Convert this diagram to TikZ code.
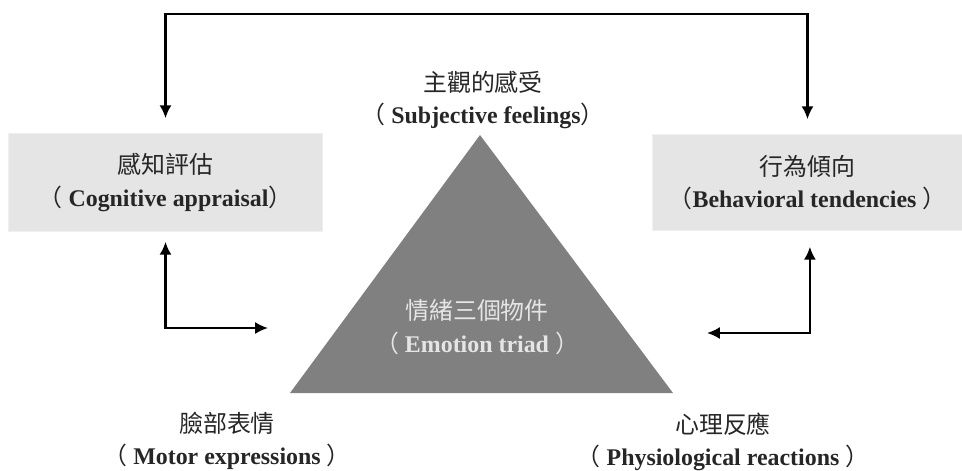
\documentclass[tikz,border=0pt]{standalone}
\usepackage{fontspec}
\setmainfont{Liberation Serif}
\newfontfamily\cjk{Noto Sans CJK TC}
\usetikzlibrary{arrows.meta}
\def\zhparen#1{{\cjk\mdseries （}#1{\cjk\mdseries ）}}

\begin{document}
\begin{tikzpicture}[x=0.025cm, y=-0.025cm,
		label text/.style={align=center, text=black!85, font=\fontsize{17}{23}\selectfont\bfseries},
		panel/.style={label text, fill=gray!20, draw=gray!12, line width=0.4pt, minimum width=7.85cm, minimum height=2.45cm},
		link/.style={line width=1.6pt, {Latex[length=0.32cm, width=0.3cm]}-{Latex[length=0.32cm, width=0.3cm]}}]
		%%%%% START %%%%%
		
		\useasboundingbox (0, 0) rectangle (962, 470);
		
		\node[panel] (cog) at (165.5, 182.5) {{\cjk\mdseries 感知評估}\\\zhparen{ Cognitive appraisal}};
		\node[panel, minimum width=7.75cm, minimum height=2.4cm] (beh) at (807.5, 182.5) {{\cjk\mdseries 行為傾向}\\\zhparen{Behavioral tendencies }};
		
		\coordinate (apex) at (480, 135);
		\coordinate (left) at (290, 393);
		\coordinate (right) at (673, 393);
		\fill[gray] (apex) -- (right) -- (left) -- cycle;
		
		\node[label text, text=gray!20] (triad) at (477, 327) {{\cjk\mdseries 情緒三個物件}\\\zhparen{ Emotion triad }};
		\node[label text] (feel) at (483, 100) {{\cjk\mdseries 主觀的感受}\\\zhparen{ Subjective feelings}};
		\node[label text] (motor) at (227, 441) {{\cjk\mdseries 臉部表情}\\\zhparen{ Motor expressions }};
		\node[label text] (physio) at (723, 442) {{\cjk\mdseries 心理反應}\\\zhparen{ Physiological reactions }};
		
		\coordinate (motorin) at (268, 328);
		\coordinate (physin) at (707, 333);
		
		\draw[link, shorten <=0.375cm, shorten >=0.375cm] (cog.north) -- ++(0, -119) -| (beh.north);
		\draw[link, shorten <=0.25cm] (cog.south) |- (motorin);
		\draw[link, shorten <=0.4cm] ([xshift=0.06cm]beh.south) |- (physin);
		
		%%%%% END %%%%%
	\end{tikzpicture}
\end{document}
